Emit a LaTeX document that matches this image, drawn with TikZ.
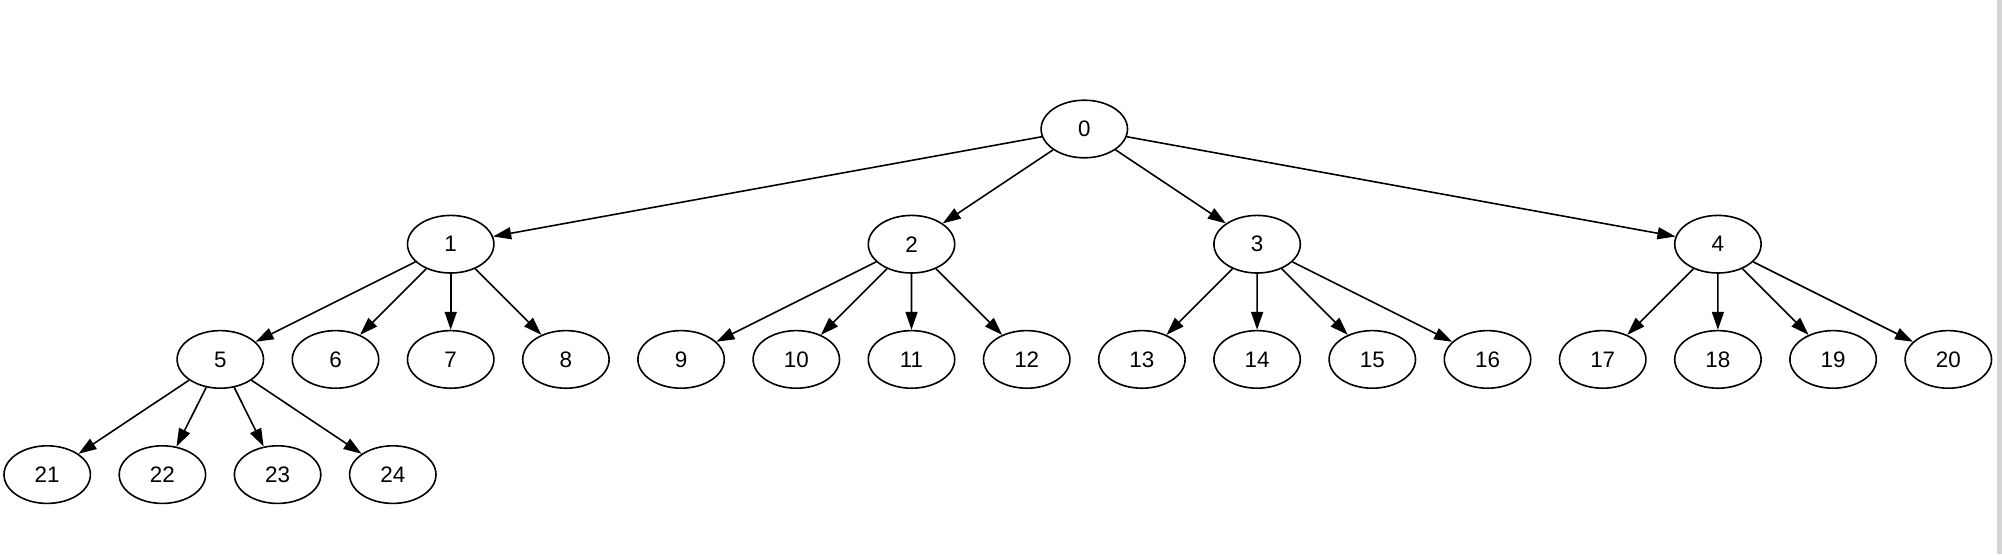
\documentclass[tikz,border=0pt]{standalone}
\usepackage{fontspec}
\setmainfont{Liberation Sans}
\usetikzlibrary{shapes.geometric,arrows.meta}
\begin{document}
\begin{tikzpicture}[x=0.5pt,y=-0.5pt,
  nd/.style={ellipse,draw,line width=0.8pt,minimum width=43.2pt,minimum height=28.8pt,inner sep=0pt,font=\fontsize{11.2}{13}\selectfont},
  ar/.style={line width=0.8pt,-{Triangle[length=9pt,width=6pt]}}]
\useasboundingbox (0,0) rectangle (2002,554);
\fill[white] (0,0) rectangle (2002,554);
\fill[fill={rgb,255:red,212;green,212;blue,212}] (1997,0) rectangle (2002,554);
% root
\node[nd] (n0) at (1084.3,129) {0};
% level 1
\node[nd] (n1) at (450.7,244.2) {1};
\node[nd] (n2) at (911.5,244.2) {2};
\node[nd] (n3) at (1257.1,244.2) {3};
\node[nd] (n4) at (1717.9,244.2) {4};
% level 2
\foreach \k in {5,...,20} {
  \node[nd] (n\k) at ({220.3+(\k-5)*115.2},359.4) {\k};
}
% level 3
\node[nd] (n21) at (47.2,474.6) {21};
\node[nd] (n22) at (162.4,474.6) {22};
\node[nd] (n23) at (277.6,474.6) {23};
\node[nd] (n24) at (392.8,474.6) {24};
% edges
\foreach \c in {1,2,3,4} { \draw[ar] (n0) -- (n\c); }
\foreach \c in {5,6,7,8} { \draw[ar] (n1) -- (n\c); }
\foreach \c in {9,10,11,12} { \draw[ar] (n2) -- (n\c); }
\foreach \c in {13,14,15,16} { \draw[ar] (n3) -- (n\c); }
\foreach \c in {17,18,19,20} { \draw[ar] (n4) -- (n\c); }
\foreach \c in {21,22,23,24} { \draw[ar] (n5) -- (n\c); }
\end{tikzpicture}
\end{document}
